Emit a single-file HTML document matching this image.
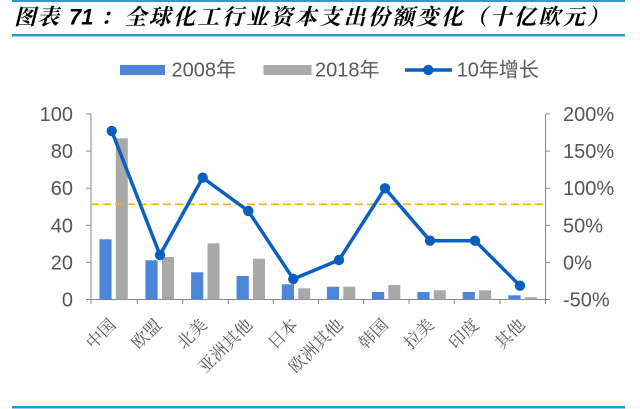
<!DOCTYPE html>
<html>
<head>
<meta charset="utf-8">
<style>
html,body{margin:0;padding:0;background:#fff;}
svg{display:block;}
</style>
</head>
<body>
<svg width="640" height="409" viewBox="0 0 640 409" xmlns="http://www.w3.org/2000/svg">
  <rect x="0" y="0" width="640" height="409" fill="#ffffff"/>
  <!-- header rules -->
  <rect x="12" y="0" width="613" height="2" fill="#2A9AD8"/>
  <rect x="12" y="34" width="613" height="2.5" fill="#2A9AD8"/>
  <rect x="12" y="406" width="613" height="2.5" fill="#17A2DC"/>

  <!-- title -->
  <g font-weight="bold" font-style="italic" fill="#000">
    <text x="14" y="24.5" font-family="'Noto Serif CJK SC','Noto Sans CJK SC',serif" font-size="22" textLength="45" lengthAdjust="spacing">图表</text>
    <text x="69" y="24.5" font-family="'Liberation Sans',sans-serif" font-size="22">71</text>
    <text x="100" y="24.5" font-family="'Noto Serif CJK SC','Noto Sans CJK SC',serif" font-size="22" textLength="509" lengthAdjust="spacing">：全球化工行业资本支出份额变化（十亿欧元）</text>
  </g>

  <!-- legend -->
  <g font-family="'Liberation Sans','Noto Sans CJK SC',sans-serif" font-size="20" fill="#595959">
    <rect x="120" y="65" width="45" height="10" fill="#4D86D8"/>
    <text x="171.5" y="76.7">2008年</text>
    <rect x="263.5" y="65" width="48" height="10" fill="#A9A9A9"/>
    <text x="315" y="76.7">2018年</text>
    <line x1="405" y1="70" x2="452" y2="70" stroke="#0B5FC0" stroke-width="3.5"/>
    <circle cx="428.3" cy="70" r="5.2" fill="#0B5FC0"/>
    <text x="456.7" y="76.7">10年增长</text>
  </g>

  <!-- axes -->
  <g stroke="#888888" stroke-width="1" fill="none">
    <line x1="91" y1="114" x2="91" y2="299.5"/>
    <line x1="545.5" y1="114" x2="545.5" y2="299.5"/>
    <line x1="86" y1="299.5" x2="550" y2="299.5"/>
    <line x1="86" y1="114" x2="91" y2="114"/>
    <line x1="86" y1="151.1" x2="91" y2="151.1"/>
    <line x1="86" y1="188.2" x2="91" y2="188.2"/>
    <line x1="86" y1="225.3" x2="91" y2="225.3"/>
    <line x1="86" y1="262.4" x2="91" y2="262.4"/>
    <line x1="545.5" y1="114" x2="550" y2="114"/>
    <line x1="545.5" y1="151.1" x2="550" y2="151.1"/>
    <line x1="545.5" y1="188.2" x2="550" y2="188.2"/>
    <line x1="545.5" y1="225.3" x2="550" y2="225.3"/>
    <line x1="545.5" y1="262.4" x2="550" y2="262.4"/>
    <line x1="91" y1="299.5" x2="91" y2="304"/>
    <line x1="137.3" y1="299.5" x2="137.3" y2="304"/>
    <line x1="182.7" y1="299.5" x2="182.7" y2="304"/>
    <line x1="228.3" y1="299.5" x2="228.3" y2="304"/>
    <line x1="273.3" y1="299.5" x2="273.3" y2="304"/>
    <line x1="318.5" y1="299.5" x2="318.5" y2="304"/>
    <line x1="363.5" y1="299.5" x2="363.5" y2="304"/>
    <line x1="409" y1="299.5" x2="409" y2="304"/>
    <line x1="454.3" y1="299.5" x2="454.3" y2="304"/>
    <line x1="500" y1="299.5" x2="500" y2="304"/>
    <line x1="545.5" y1="299.5" x2="545.5" y2="304"/>
  </g>

  <!-- left axis labels -->
  <g font-family="'Liberation Sans',sans-serif" font-size="20" fill="#555555" text-anchor="end">
    <text x="73" y="121">100</text>
    <text x="73" y="158.1">80</text>
    <text x="73" y="195.2">60</text>
    <text x="73" y="232.3">40</text>
    <text x="73" y="269.4">20</text>
    <text x="73" y="306.5">0</text>
  </g>
  <!-- right axis labels -->
  <g font-family="'Liberation Sans',sans-serif" font-size="20" fill="#555555">
    <text x="563" y="121">200%</text>
    <text x="563" y="158.1">150%</text>
    <text x="563" y="195.2">100%</text>
    <text x="563" y="232.3">50%</text>
    <text x="563" y="269.4">0%</text>
    <text x="563" y="306.5">-50%</text>
  </g>

  <!-- bars 2008 -->
  <g fill="#4D86D8">
    <rect x="99.4" y="239.3" width="12.2" height="60.2"/>
    <rect x="145.4" y="260.3" width="12.2" height="39.2"/>
    <rect x="191.1" y="272.3" width="12.2" height="27.2"/>
    <rect x="236.6" y="276" width="12.2" height="23.5"/>
    <rect x="281.8" y="284.3" width="12.2" height="15.2"/>
    <rect x="326.9" y="286.7" width="12.2" height="12.8"/>
    <rect x="372" y="292" width="12.2" height="7.5"/>
    <rect x="417.3" y="292" width="12.2" height="7.5"/>
    <rect x="462.7" y="292" width="12.2" height="7.5"/>
    <rect x="508.3" y="295.3" width="12.2" height="4.2"/>
  </g>
  <!-- bars 2018 -->
  <g fill="#A9A9A9">
    <rect x="115.8" y="138.3" width="12" height="161.2"/>
    <rect x="162" y="257" width="12" height="42.5"/>
    <rect x="207.5" y="243.3" width="12" height="56.2"/>
    <rect x="253" y="258.7" width="12" height="40.8"/>
    <rect x="298.2" y="288.3" width="12" height="11.2"/>
    <rect x="343.3" y="286.7" width="12" height="12.8"/>
    <rect x="388.3" y="285" width="12" height="14.5"/>
    <rect x="433.8" y="290.3" width="12" height="9.2"/>
    <rect x="479.1" y="290.3" width="12" height="9.2"/>
    <rect x="524.8" y="297.2" width="12" height="2.3"/>
  </g>

  <!-- dashed line -->
  <line x1="91" y1="204.3" x2="545.5" y2="204.3" stroke="#F5B400" stroke-width="1.6" stroke-dasharray="8,4"/>

  <!-- growth line -->
  <polyline fill="none" stroke="#0B5FC0" stroke-width="3.5" stroke-linejoin="round"
    points="111.7,131 160,255 202.7,177.7 248.3,211 293.3,279 339,260 385,188.3 430,240.7 475,240.7 520,285.7"/>
  <g fill="#0B5FC0">
    <circle cx="111.7" cy="131" r="5.2"/>
    <circle cx="160" cy="255" r="5.2"/>
    <circle cx="202.7" cy="177.7" r="5.2"/>
    <circle cx="248.3" cy="211" r="5.2"/>
    <circle cx="293.3" cy="279" r="5.2"/>
    <circle cx="339" cy="260" r="5.2"/>
    <circle cx="385" cy="188.3" r="5.2"/>
    <circle cx="430" cy="240.7" r="5.2"/>
    <circle cx="475" cy="240.7" r="5.2"/>
    <circle cx="520" cy="285.7" r="5.2"/>
  </g>

  <!-- category labels -->
  <g font-family="'Liberation Serif','Noto Serif CJK SC',serif" font-size="17" fill="#595959" text-anchor="end">
    <text transform="translate(117,326) rotate(-45)">中国</text>
    <text transform="translate(162.5,326) rotate(-45)">欧盟</text>
    <text transform="translate(208,326) rotate(-45)">北美</text>
    <text transform="translate(253.5,326) rotate(-45)">亚洲其他</text>
    <text transform="translate(299,326) rotate(-45)">日本</text>
    <text transform="translate(344,326) rotate(-45)">欧洲其他</text>
    <text transform="translate(389.5,326) rotate(-45)">韩国</text>
    <text transform="translate(435,326) rotate(-45)">拉美</text>
    <text transform="translate(480,326) rotate(-45)">印度</text>
    <text transform="translate(526,326) rotate(-45)">其他</text>
  </g>
</svg>
</body>
</html>
